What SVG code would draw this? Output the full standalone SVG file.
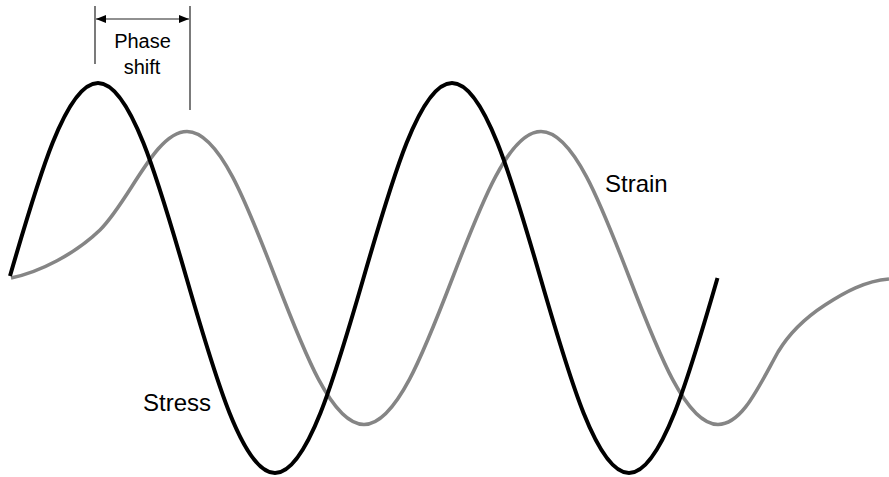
<svg xmlns="http://www.w3.org/2000/svg" width="889" height="477" viewBox="0 0 889 477">
  <style>
    .lbl { font-family: "Liberation Sans", Arial, sans-serif; fill: #000; }
    .stress { fill: none; stroke: #000; stroke-width: 4; stroke-linecap: butt; stroke-linejoin: round; }
    .strain { fill: none; stroke: #858585; stroke-width: 3.6; stroke-linecap: butt; stroke-linejoin: round; }
    .tick { stroke: #222; stroke-width: 1.2; fill: none; }
  </style>
  <defs>
    <marker id="ah" viewBox="0 0 10 8" refX="10" refY="4" markerWidth="10" markerHeight="8" markerUnits="userSpaceOnUse" orient="auto-start-reverse">
      <path d="M0,0 L10,4 L0,8 Z" fill="#000"/>
    </marker>
  </defs>
  <rect width="889" height="477" fill="#fff"/>

  <g id="strain-curve">
    <path class="strain" d="M11,278 C40,272 75,254 100,230 C130,200.5 155,131.5 187,131.5 C219.03,131.5 246.64,202.95 275.5,278 C304.36,353.05 331.97,424.5 364,424.5 C396.03,424.5 423.64,353.05 452.5,278 C481.36,202.95 508.97,131.5 541,131.5 C573.03,131.5 600.64,202.95 629.5,278 C658.36,353.05 685.97,424.5 718,424.5 C742,424.5 758,388 778,352 C790,332 805,318 825,305 C845,292 865,281 889,279"/>
  </g>

  <g id="stress-curve">
    <path class="stress" d="M10,276 C38.36,178.1 65.97,83 98,83 C130.03,83 157.64,178.1 186.5,278 C215.36,377.9 242.97,473 275,473 C307.03,473 334.64,377.9 363.5,278 C392.36,178.1 419.97,83 452,83 C484.03,83 511.64,178.1 540.5,278 C569.36,377.9 596.97,473 629,473 C661.03,473 688.64,377.9 717.5,278"/>
  </g>

  <g id="phase-shift">
    <line class="tick" x1="95" y1="6" x2="95" y2="64"/>
    <line class="tick" x1="190" y1="6" x2="190" y2="110"/>
    <line class="tick" x1="96" y1="19" x2="189" y2="19" marker-start="url(#ah)" marker-end="url(#ah)"/>
    <text class="lbl" x="142.5" y="48" font-size="20" text-anchor="middle">Phase</text>
    <text class="lbl" x="142" y="74" font-size="20" text-anchor="middle">shift</text>
  </g>

  <g id="labels">
    <text class="lbl" x="143" y="411" font-size="24">Stress</text>
    <text class="lbl" x="605" y="192" font-size="24">Strain</text>
  </g>
</svg>
